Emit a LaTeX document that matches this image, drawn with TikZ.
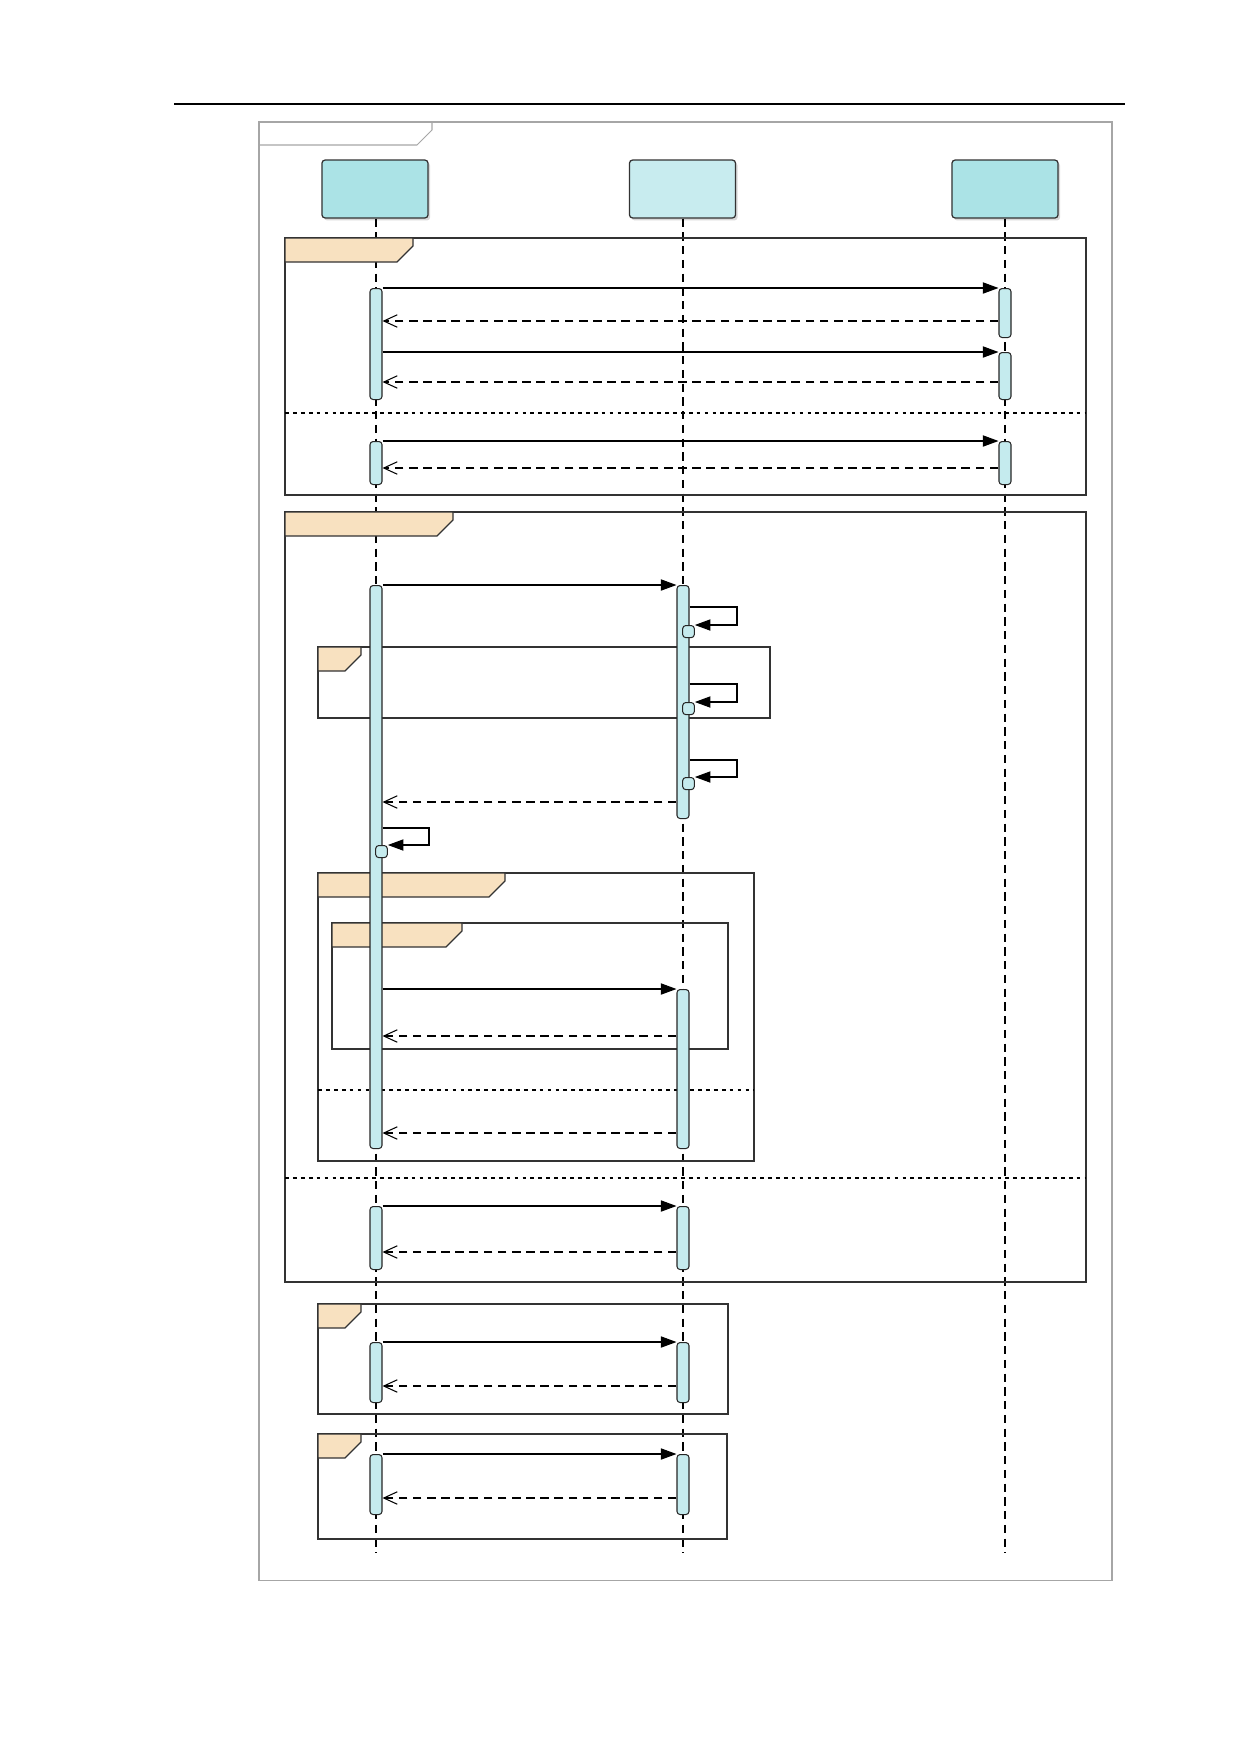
\documentclass[tikz,border=0pt]{standalone}
\usetikzlibrary{arrows.meta,shadows}
\definecolor{headdark}{HTML}{ABE3E6}
\definecolor{headlight}{HTML}{C8ECEF}
\definecolor{barcyan}{HTML}{C5EBEE}
\definecolor{tabwheat}{HTML}{F8E1C0}
\definecolor{framegray}{HTML}{A6A6A6}
\tikzset{
  head/.style={draw=black!80, rounded corners=1.5pt, minimum width=50.9pt,
    minimum height=27.8pt, line width=0.6pt,
    drop shadow={shadow xshift=1pt, shadow yshift=-1.2pt, fill=black!25, opacity=0.6}},
  actbar/.style={draw=black!85, fill=barcyan, rounded corners=1.5pt,
    minimum width=5.76pt, inner sep=0pt, line width=0.5pt, anchor=north},
  selfbox/.style={actbar, minimum width=5.6pt, minimum height=5.8pt},
  lifeline/.style={line width=0.6pt, dash pattern=on 4pt off 2.6pt},
  call/.style={line width=0.5pt, -{Triangle[length=7.5pt,width=5.4pt]}},
  reply/.style={line width=0.5pt, dash pattern=on 4.2pt off 2.6pt,
    -{Straight Barb[length=6.5pt,width=6pt]}},
  frag/.style={draw=black!80, line width=0.6pt},
  fragtab/.style={frag, fill=tabwheat},
  sep/.style={line width=0.6pt, dash pattern=on 1.8pt off 2pt}
}
% activation bar: name, x, top, bottom
\newcommand{\activation}[4]{\node[actbar, minimum height={(#4-#3)*0.48pt}] (#1) at (#2,#3) {};}
% combined fragment: left, top, right, bottom, tab right
\newcommand{\fragment}[5]{%
  \draw[frag] (#1,#2) rectangle (#3,#4);
  \draw[fragtab] (#1,#2) -- (#5,#2) -- (#5,#2+8) -- (#5-16,#2+24) -- (#1,#2+24) -- cycle;}
\begin{document}
\begin{tikzpicture}[x=0.48pt, y=-0.48pt]
    \useasboundingbox (0,0) rectangle (1240,1754);
    % 页眉线
    \draw[line width=0.8pt] (174,104) -- (1125,104);
    % 外框
    \draw[framegray, line width=0.5pt] (259,122) rectangle (1112,1580);
    \draw[framegray, line width=0.5pt] (259,145) -- (417,145) -- (432,130) -- (432,122);
    % 对象
    \node[head, fill=headdark] (objA) at (375,189) {};
    \node[head, fill=headlight] (objB) at (682.5,189) {};
    \node[head, fill=headdark] (objC) at (1005,189) {};
    % 生命线
    \draw[lifeline] (objA.south -| 376,0) -- (376,1553);
    \draw[lifeline] (objB.south -| 683,0) -- (683,1553);
    \draw[lifeline] (objC.south) -- (1005,1553);
    % 组合片段
    \fragment{285}{238}{1086}{495}{413}
    \draw[sep] (285,413) -- (1086,413);
    \fragment{285}{512}{1086}{1282}{453}
    \draw[sep] (285,1178) -- (1086,1178);
    \fragment{318}{647}{770}{718}{361}
    \fragment{318}{873}{754}{1161}{505}
    \draw[sep] (318,1090) -- (754,1090);
    \fragment{332}{923}{728}{1049}{462}
    \fragment{318}{1304}{728}{1414}{361}
    \fragment{318}{1434}{727}{1539}{361}
    % 激活条
    \activation{a1}{376}{288}{399}
    \activation{c1}{1005}{288}{337}
    \activation{c2}{1005}{352}{399}
    \activation{a2}{376}{441}{484}
    \activation{c3}{1005}{441}{484}
    \activation{a3}{376}{585}{1148}
    \activation{b1}{683}{585}{818}
    \activation{b2}{683}{989}{1148}
    \activation{a4}{376}{1206}{1269}
    \activation{b3}{683}{1206}{1269}
    \activation{a5}{376}{1342}{1402}
    \activation{b4}{683}{1342}{1402}
    \activation{a6}{376}{1454}{1514}
    \activation{b5}{683}{1454}{1514}
    % 消息
    \draw[call] (a1.north east) -- (c1.north west);
    \draw[reply] (c1.west |- 0,321) -- (a1.east |- 0,321);
    \draw[call] (a1.east |- c2.north) -- (c2.north west);
    \draw[reply] (c2.west |- 0,382) -- (a1.east |- 0,382);
    \draw[call] (a2.north east) -- (c3.north west);
    \draw[reply] (c3.west |- 0,468) -- (a2.east |- 0,468);
    \draw[call] (a3.north east) -- (b1.north west);
    \draw[reply] (b1.west |- 0,802) -- (a3.east |- 0,802);
    \draw[call] (a3.east |- b2.north) -- (b2.north west);
    \draw[reply] (b2.west |- 0,1036) -- (a3.east |- 0,1036);
    \draw[reply] (b2.west |- 0,1133) -- (a3.east |- 0,1133);
    \draw[call] (a4.north east) -- (b3.north west);
    \draw[reply] (b3.west |- 0,1252) -- (a4.east |- 0,1252);
    \draw[call] (a5.north east) -- (b4.north west);
    \draw[reply] (b4.west |- 0,1386) -- (a5.east |- 0,1386);
    \draw[call] (a6.north east) -- (b5.north west);
    \draw[reply] (b5.west |- 0,1498) -- (a6.east |- 0,1498);
    % 自调用
    \node[selfbox] (s1) at (688.5,625) {};
    \node[selfbox] (s2) at (688.5,702) {};
    \node[selfbox] (s3) at (688.5,777) {};
    \node[selfbox] (s4) at (381.5,845) {};
    \draw[call] (b1.east |- 0,607) -| (737,625) -- (s1.north east);
    \draw[call] (b1.east |- 0,684) -| (737,702) -- (s2.north east);
    \draw[call] (b1.east |- 0,760) -| (737,777) -- (s3.north east);
    \draw[call] (a3.east |- 0,828) -| (429,845) -- (s4.north east);
\end{tikzpicture}
\end{document}
